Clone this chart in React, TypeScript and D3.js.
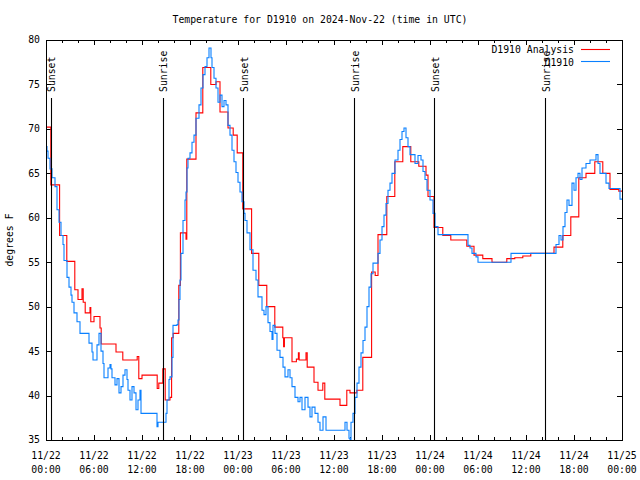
import React from "react";
import * as d3 from "d3";

// Hours since 2024-11-22 00:00 UTC
const analysisHours = [0, 0.6, 1.7, 2.6, 3.6, 4.0, 4.5, 4.65, 4.9, 5.5, 5.6, 6.0, 6.75, 6.9, 8.75, 9.6, 11.4, 11.6, 12.0, 13.9, 14.1, 14.6, 14.9, 15.5, 15.7, 15.9, 16.6, 16.8, 17.5, 17.6, 18.75, 19.6, 20.6, 21.25, 21.75, 22.75, 23.4, 23.9, 24.6, 25.7, 26.6, 27.6, 28.6, 29.6, 29.7, 29.8, 30.75, 31.3, 31.55, 31.65, 32.5, 32.65, 33.5, 34.0, 34.6, 34.85, 36.75, 37.6, 38.0, 38.85, 39.6, 40.7, 41.15, 41.5, 42.6, 43.6, 44.6, 45.6, 46.6, 47.5, 47.75, 48.5, 49.6, 50.6, 52.6, 53.5, 54.6, 55.75, 57.6, 58.6, 59.6, 60.6, 63.5, 64.6, 65.6, 66.6, 67.5, 68.6, 69.6, 70.5, 71.6, 72];
const analysisTemps = [70.2, 63.7, 58, 55.1, 51.9, 50.8, 52, 50.5, 49.3, 49.9, 48.3, 48.9, 47.6, 45.8, 44.9, 44, 44.4, 41.9, 42.3, 40.8, 41.4, 43, 39.5, 39.8, 46.5, 47, 52.4, 58.3, 57.6, 66.6, 71.8, 76.9, 75, 75.3, 71.9, 70.1, 69.3, 67.3, 61, 56, 52.4, 50, 47.7, 46.5, 45.5, 46.5, 43.8, 44.1, 44.8, 44, 44.8, 43.2, 41.5, 40.6, 41.4, 39.6, 38.9, 40.6, 40.3, 40.6, 44.3, 53.9, 53.5, 58.1, 62.4, 66.3, 68, 66.3, 65.8, 64.8, 62.4, 58.9, 58, 57.5, 56.8, 55.8, 55.4, 55, 55.4, 55.5, 55.7, 56, 56.7, 58, 60.1, 64.5, 65, 66.3, 65, 63.2, 63, 63];

const obsHours = [0, 0.125, 0.25, 0.5, 0.75, 1.125, 1.375, 1.625, 1.875, 2.125, 2.25, 2.625, 2.875, 3.125, 3.25, 3.5, 3.875, 4.25, 5.25, 5.375, 5.75, 5.875, 6.25, 6.375, 6.625, 6.875, 7.125, 7.25, 7.625, 7.75, 8, 8.125, 8.25, 8.625, 8.875, 9.125, 9.375, 9.625, 9.875, 10.125, 10.25, 10.5, 10.75, 11, 11.25, 11.5, 11.75, 11.875, 13.625, 13.875, 14, 14.875, 15, 15.125, 15.375, 15.5, 15.75, 15.875, 16.375, 16.5, 16.625, 16.75, 16.875, 17.125, 17.375, 17.5, 17.625, 17.75, 18, 18.25, 18.5, 18.75, 19.125, 19.375, 19.625, 19.875, 20.125, 20.375, 20.625, 20.75, 21, 21.25, 21.5, 21.75, 22, 22.25, 22.5, 22.75, 23, 23.25, 23.5, 23.75, 24, 24.25, 24.5, 24.75, 24.875, 25.125, 25.5, 25.875, 26.25, 26.5, 27, 27.25, 27.5, 27.75, 28, 28.25, 28.375, 28.625, 28.875, 29.25, 29.625, 29.875, 30.25, 30.5, 30.75, 31.125, 31.5, 31.75, 32, 32.375, 32.75, 33, 33.25, 33.625, 34, 34.25, 34.625, 35, 37.125, 37.375, 37.625, 37.875, 38, 38.125, 38.375, 38.625, 38.875, 39.125, 39.375, 39.625, 39.875, 40.125, 40.375, 40.625, 40.875, 41.5, 41.75, 42, 42.25, 42.5, 42.75, 43, 43.25, 43.625, 44, 44.25, 44.5, 44.75, 45, 45.25, 45.5, 46.125, 46.5, 46.875, 47.125, 47.375, 47.625, 48, 48.375, 48.625, 49, 52.75, 53, 53.25, 53.75, 54, 58.125, 63.75, 64.125, 64.375, 64.625, 64.875, 65.125, 65.375, 65.75, 66, 66.25, 66.5, 66.75, 67, 67.5, 68, 68.75, 69, 69.25, 70, 70.375, 71.75, 72];
const obsTemps = [68, 67.5, 66.7, 65.5, 64.5, 63.5, 60.9, 59.5, 58, 57, 55.2, 53.3, 52.2, 51.3, 50.5, 49.3, 48.3, 47, 47, 45.9, 44.9, 44, 44, 45.7, 47, 45, 43.6, 42, 42, 43.1, 43.5, 43, 42, 41.2, 41.9, 40.3, 41, 42.3, 42.9, 41.8, 40.6, 39.5, 41, 40.3, 38.4, 39.5, 40.6, 38, 38, 36.5, 37, 37, 38, 39.5, 41.8, 42.1, 44.3, 47.9, 48, 48.5, 50.8, 53, 56, 59.7, 62, 62.9, 65.6, 66.7, 67.3, 68.5, 69.3, 71.2, 72.7, 74.6, 76.1, 77, 78, 79.1, 78, 76.9, 75.7, 74.6, 73, 73.8, 72.5, 73.2, 72.7, 70.4, 69.3, 67.6, 66.3, 65.1, 64, 62.9, 61.8, 60.5, 59.7, 58.3, 56.4, 54.1, 53, 51.1, 49.6, 49.1, 50, 48.2, 47.2, 46.3, 47.9, 47, 45.1, 44.3, 43.2, 42.1, 42.9, 42, 41, 39.8, 39.3, 39.8, 38.4, 39.8, 38.7, 37.6, 38.7, 38, 37, 36.1, 37.6, 36.1, 36.1, 37, 36.1, 35.2, 34.6, 37, 38, 39.8, 41.4, 43.2, 44.8, 46.2, 47.7, 50, 52.2, 53.7, 54.9, 56, 57.5, 59, 60.3, 61.6, 63.1, 63.9, 65, 66.5, 67.6, 68.8, 69.7, 70.1, 69, 68, 67.1, 66.1, 67, 66.5, 65.2, 64.3, 63.1, 62, 60.5, 59, 58.1, 56.9, 56.6, 56, 55.6, 55, 56, 57, 58, 57.5, 59, 60.6, 62, 61.4, 63.9, 63.1, 64.5, 65, 64.3, 65.6, 66.1, 66.5, 67.1, 66.1, 65, 63.9, 63.3, 62.1, 62.1];

const sunsetHours = [0.6, 24.65, 48.55];
const sunriseHours = [14.6, 38.55, 62.4];

const xTickHours = [0, 6, 12, 18, 24, 30, 36, 42, 48, 54, 60, 66, 72];
const xTickDates = ["11/22", "11/22", "11/22", "11/22", "11/23", "11/23", "11/23", "11/23", "11/24", "11/24", "11/24", "11/24", "11/25"];
const xTickTimes = ["00:00", "06:00", "12:00", "18:00", "00:00", "06:00", "12:00", "18:00", "00:00", "06:00", "12:00", "18:00", "00:00"];
const yTicks = [35, 40, 45, 50, 55, 60, 65, 70, 75, 80];

const FONT = "'DejaVu Sans Mono', 'Liberation Mono', monospace";
const RED = "#ff0000";
const BLUE = "#0a80ff";

export default function App() {
  const left = 46, right = 622, top = 40, bottom = 440;
  const x = d3.scaleLinear().domain([0, 72]).range([left, right]);
  const y = d3.scaleLinear().domain([35, 80]).range([bottom, top]);

  const line = d3
    .line<[number, number]>()
    .x((d) => x(d[0]))
    .y((d) => y(d[1]))
    .curve(d3.curveStepAfter);

  const redPath = line(analysisHours.map((h, i) => [h, analysisTemps[i]] as [number, number])) || "";
  const bluePath = line(obsHours.map((h, i) => [h, obsTemps[i]] as [number, number])) || "";

  const minorTicks = d3.range(0, 73, 2);

  return (
    <svg width={640} height={480} style={{ position: "absolute", left: 0, top: 0, background: "#fff" }}>
      <defs>
        <clipPath id="plotclip">
          <rect x={left} y={top} width={right - left} height={bottom - top} />
        </clipPath>
      </defs>
      <rect width={640} height={480} fill="#fff" />
      <text x={320} y={23} textAnchor="middle" fontFamily={FONT} fontSize={9.8} fill="#000">
        Temperature for D1910 on 2024-Nov-22 (time in UTC)
      </text>

      {yTicks.map((t) => (
        <g key={"y" + t}>
          <line x1={left} x2={left + 5} y1={Math.round(y(t)) + 0.5} y2={Math.round(y(t)) + 0.5} stroke="#000" />
          <line x1={right - 5} x2={right} y1={Math.round(y(t)) + 0.5} y2={Math.round(y(t)) + 0.5} stroke="#000" />
          <text x={40} y={y(t)} dy="0.35em" textAnchor="end" fontFamily={FONT} fontSize={9.8} fill="#000">
            {t}
          </text>
        </g>
      ))}

      {minorTicks.map((h) => {
        const major = h % 6 === 0;
        const len = major ? 5 : 3;
        const xx = Math.round(x(h)) + 0.5;
        return (
          <g key={"x" + h}>
            <line x1={xx} x2={xx} y1={bottom} y2={bottom - len} stroke="#000" />
            <line x1={xx} x2={xx} y1={top} y2={top + len} stroke="#000" />
          </g>
        );
      })}
      {xTickHours.map((h, i) => (
        <g key={"xl" + h}>
          <text x={x(h)} y={459} textAnchor="middle" fontFamily={FONT} fontSize={9.8} fill="#000">
            {xTickDates[i]}
          </text>
          <text x={x(h)} y={473} textAnchor="middle" fontFamily={FONT} fontSize={9.8} fill="#000">
            {xTickTimes[i]}
          </text>
        </g>
      ))}

      <text transform={`translate(13,240) rotate(-90)`} textAnchor="middle" fontFamily={FONT} fontSize={9.8} fill="#000">
        degrees F
      </text>

      <g clipPath="url(#plotclip)">
        <path d={redPath} fill="none" stroke={RED} strokeWidth={1.1} />
        <path d={bluePath} fill="none" stroke={BLUE} strokeWidth={1.1} />
      </g>

      {sunsetHours.map((h) => (
        <g key={"ss" + h}>
          <line x1={Math.round(x(h)) + 0.5} x2={Math.round(x(h)) + 0.5} y1={98} y2={bottom} stroke="#000" strokeWidth={1.1} />
          <text transform={`translate(${x(h) + 1},92) rotate(-90)`} dominantBaseline="central" textAnchor="start" fontFamily={FONT} fontSize={9.8} fill="#000">
            Sunset
          </text>
        </g>
      ))}
      {sunriseHours.map((h) => (
        <g key={"sr" + h}>
          <line x1={Math.round(x(h)) + 0.5} x2={Math.round(x(h)) + 0.5} y1={98} y2={bottom} stroke="#000" strokeWidth={1.1} />
          <text transform={`translate(${x(h) + 1},92) rotate(-90)`} dominantBaseline="central" textAnchor="start" fontFamily={FONT} fontSize={9.8} fill="#000">
            Sunrise
          </text>
        </g>
      ))}

      <text x={574} y={53} textAnchor="end" fontFamily={FONT} fontSize={9.8} fill="#000">
        D1910 Analysis
      </text>
      <line x1={581} x2={610} y1={49.5} y2={49.5} stroke={RED} strokeWidth={1.1} />
      <text x={574} y={66} textAnchor="end" fontFamily={FONT} fontSize={9.8} fill="#000">
        D1910
      </text>
      <line x1={581} x2={610} y1={61.5} y2={61.5} stroke={BLUE} strokeWidth={1.1} />

      <rect x={left + 0.5} y={top + 0.5} width={right - left} height={bottom - top} fill="none" stroke="#000" />
    </svg>
  );
}
